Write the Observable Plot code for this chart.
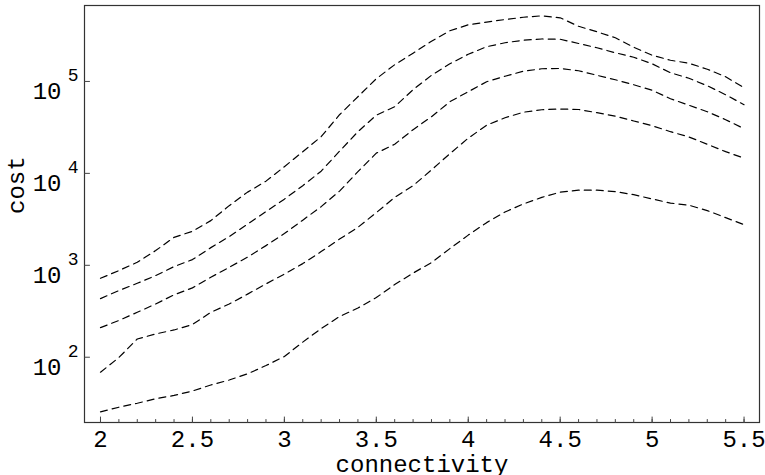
<!DOCTYPE html>
<html><head><meta charset="utf-8">
<script src="https://cdn.jsdelivr.net/npm/d3@7"></script>
<script src="https://cdn.jsdelivr.net/npm/@observablehq/plot@0.6"></script>
<style>html,body{margin:0;padding:0;background:#fff}</style>
</head><body><div id="chart"></div>
<script>
const connectivity = [2.0,2.1,2.2,2.3,2.4,2.5,2.6,2.7,2.8,2.9,3.0,3.1,3.2,3.3,3.4,3.5,3.6,3.7,3.8,3.9,4.0,4.1,4.2,4.3,4.4,4.5,4.6,4.7,4.8,4.9,5.0,5.1,5.2,5.3,5.4,5.5];
const cost1 = [722,876,1078,1445,2015,2342,3061,4456,6250,8230,11830,17220,25060,43450,68200,107000,152000,202700,273600,355700,413000,442400,471000,499000,517700,492500,398000,346800,298600,235400,192600,170000,157700,135800,112500,85400];
const cost2 = [434,531,637,773,968,1153,1557,2051,2805,3837,5245,7350,10570,17420,28400,42950,53100,81280,116700,155600,197700,238400,263600,280500,289700,287600,258800,232400,205100,183200,155600,124400,108400,89800,71650,55830];
const cost3 = [210,251,308,380,477,568,741,951,1228,1637,2212,3098,4345,6412,10430,16590,20750,29850,41310,60140,77270,99300,114000,129100,137400,138400,130700,116700,104300,92050,80200,64860,55100,46870,38370,30620];
const cost4 = [68.7,99.3,158,179,198,227,308,379,486,628,802,1043,1409,1928,2588,3740,5483,7350,10890,16370,24150,33420,40300,46240,49230,50120,49530,45700,41870,37130,32980,28400,24880,20750,17220,14630];
const cost5 = [25.4,28.6,31.6,35.3,38.4,42.9,49.9,56.5,66.0,81.2,101.8,146,205,277,343,446,617,823,1070,1519,2130,2911,3804,4648,5483,6250,6566,6566,6325,5866,5270,4745,4510,3935,3299,2768];
const seriesList = [cost1, cost2, cost3, cost4, cost5];
const xTicks = [2, 2.5, 3, 3.5, 4, 4.5, 5, 5.5];
const xTickLabels = ["2", "2.5", "3", "3.5", "4", "4.5", "5", "5.5"];
const yTicks = [100, 1000, 10000, 100000];
const yTickBase = "10";
const yTickExponents = ["2", "3", "4", "5"];
const xLabel = "connectivity";
const yLabel = "cost";

const rows = seriesList.flatMap((s, k) => s.map((v, i) => ({x: connectivity[i], y: v, series: k})));
const tickShape = {draw(ctx, l) { ctx.moveTo(0, 0); ctx.lineTo(0, -l); }};
const font = "'Liberation Mono', 'Courier New', monospace";

const plot = Plot.plot({
  width: 765, height: 475,
  marginLeft: 84, marginRight: 6, marginTop: 5, marginBottom: 53,
  x: {domain: [1.913, 5.584], axis: null},
  y: {type: "log", domain: [19.5, 670000], axis: null},
  style: {fontFamily: font, background: "#fff", overflow: "visible", color: "#000"},
  marks: [
    Plot.line(rows, {x: "x", y: "y", z: "series", stroke: "#000", strokeWidth: 1.2, strokeDasharray: "7,5"}),
    Plot.frame({stroke: "#333", strokeWidth: 1.2}),
    Plot.vectorX(connectivity, {x: d => d, frameAnchor: "bottom", length: 3, rotate: 0, anchor: "start", shape: tickShape, stroke: "#444", strokeWidth: 1}),
    Plot.vectorX(xTicks, {x: d => d, frameAnchor: "bottom", length: 5.5, rotate: 0, anchor: "start", shape: tickShape, stroke: "#444", strokeWidth: 1}),
    Plot.vectorY(yTicks, {y: d => d, frameAnchor: "left", length: 5, rotate: 90, anchor: "start", shape: tickShape, stroke: "#444", strokeWidth: 1}),
    Plot.text(xTicks, {x: d => d, text: (d, i) => xTickLabels[i], frameAnchor: "bottom", lineAnchor: "bottom", dy: 24, fontSize: 24}),
    Plot.text(yTicks, {y: d => d, text: () => yTickBase, frameAnchor: "left", textAnchor: "end", lineAnchor: "bottom", dx: -23, dy: 18, fontSize: 24}),
    Plot.text(yTicks, {y: d => d, text: (d, i) => yTickExponents[i], frameAnchor: "left", textAnchor: "end", lineAnchor: "bottom", dx: -6, dy: 0, fontSize: 18}),
    Plot.text([xLabel], {text: d => d, frameAnchor: "bottom", lineAnchor: "bottom", dy: 49, fontSize: 24}),
    Plot.text([yLabel], {text: d => d, frameAnchor: "left", rotate: -90, lineAnchor: "bottom", dx: -61, fontSize: 24})
  ]
});
document.getElementById("chart").appendChild(plot);
</script>
</body></html>
